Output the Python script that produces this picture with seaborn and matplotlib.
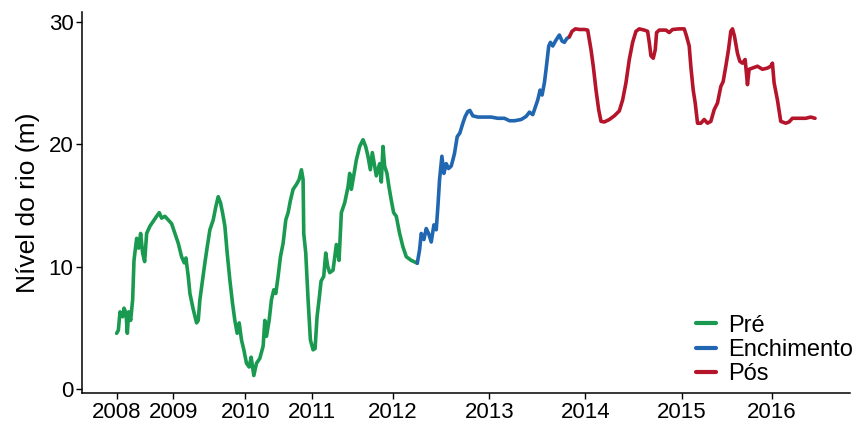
import matplotlib
matplotlib.use("Agg")
import matplotlib.pyplot as plt
import seaborn as sns
import pandas as pd

# River level series, indexed by observation number, split by reservoir phase
pre_idx = [0, 5, 10, 18, 22, 28, 32, 36, 42, 48, 52, 60, 66, 72, 78, 84, 90, 100, 110,
           120, 128, 135, 145, 155, 165, 175, 185, 195, 203, 208, 215, 220, 230, 240,
           245, 250, 258, 265, 272, 280, 290, 298, 305, 312, 318, 325, 332, 340, 348,
           355, 362, 368, 375, 382, 390, 398, 404, 412, 420, 430, 440, 445, 450, 458,
           465, 472, 478, 485, 492, 500, 508, 515, 522, 530, 540, 548, 555, 560, 562,
           568, 575, 582, 590, 596, 602, 608, 614, 622, 628, 634, 640, 650, 660, 668,
           675, 685, 695, 700, 705, 712, 720, 730, 740, 748, 755, 762, 768, 775, 780,
           790, 795, 800, 805, 812, 818, 825, 832, 840, 850, 860, 870, 885, 903]
pre_level = [4.55, 4.8, 6.3, 5.9, 6.6, 6.2, 4.55, 6.3, 5.6, 7.3, 10.5, 12.3, 11.5, 12.7,
             11.1, 10.4, 12.7, 13.3, 13.7, 14.1, 14.4, 13.95, 14.1, 13.8, 13.5, 12.7,
             11.9, 10.8, 10.3, 10.7, 9.2, 7.8, 6.5, 5.4, 5.6, 7.3, 8.9, 10.3, 11.6, 13.0,
             13.8, 14.9, 15.7, 15.2, 14.4, 13.3, 11.1, 8.9, 7.0, 5.6, 4.55, 5.4, 4.0, 3.2,
             2.1, 1.8, 2.6, 1.1, 2.1, 2.5, 3.5, 5.6, 4.3, 5.6, 7.3, 8.1, 7.8, 9.2, 10.8,
             11.9, 13.8, 14.4, 15.4, 16.3, 16.7, 17.1, 17.9, 17.1, 12.7, 11.1, 7.3, 4.0,
             3.2, 3.3, 5.9, 7.3, 8.8, 9.2, 11.1, 10.0, 9.5, 9.7, 11.8, 10.5, 14.4, 15.2,
             16.5, 17.6, 16.3, 17.4, 18.7, 19.8, 20.35, 19.8, 19.0, 17.9, 19.3, 18.2,
             17.4, 18.4, 16.9, 19.8, 18.2, 17.6, 16.5, 15.4, 14.4, 14.1, 12.7, 11.6,
             10.8, 10.5, 10.27]

fill_idx = [903, 910, 915, 923, 930, 937, 945, 953, 960, 965, 970, 977, 983, 990, 997,
            1005, 1010, 1015, 1023, 1031, 1040, 1047, 1055, 1061, 1070, 1085, 1105,
            1125, 1145, 1165, 1180, 1195, 1215, 1230, 1240, 1250, 1255, 1265, 1272,
            1278, 1285, 1290, 1298, 1303, 1310, 1318, 1325, 1330, 1338, 1345, 1352, 1360]
fill_level = [10.27, 11.36, 12.7, 12.2, 13.1, 12.7, 12.0, 13.4, 13.0, 14.9, 17.1, 19.0,
              17.6, 18.4, 18.0, 18.2, 18.7, 19.25, 20.6, 20.9, 21.7, 22.25, 22.66, 22.74,
              22.3, 22.2, 22.2, 22.2, 22.1, 22.1, 21.9, 21.9, 22.0, 22.25, 22.6, 22.4,
              22.8, 23.6, 24.4, 24.0, 25.0, 26.1, 28.0, 28.3, 28.0, 28.4, 28.7, 28.9,
              28.4, 28.3, 28.6, 28.75]

post_idx = [1360, 1368, 1378, 1390, 1405, 1415, 1425, 1432, 1440, 1448, 1455, 1465, 1480,
            1495, 1510, 1520, 1530, 1540, 1550, 1560, 1570, 1585, 1595, 1600, 1605, 1612,
            1618, 1622, 1630, 1650, 1660, 1670, 1690, 1705, 1712, 1720, 1725, 1732, 1738,
            1745, 1755, 1765, 1775, 1785, 1795, 1805, 1815, 1822, 1830, 1838, 1845, 1850,
            1856, 1865, 1872, 1880, 1888, 1895, 1900, 1910, 1925, 1940, 1955, 1965, 1970,
            1975, 1985, 1995, 2010, 2020, 2030, 2050, 2070, 2085, 2098]
post_level = [28.75, 29.2, 29.4, 29.35, 29.35, 29.3, 27.7, 26.3, 24.4, 22.8, 21.85, 21.8,
              22.0, 22.3, 22.7, 23.6, 25.0, 26.9, 28.3, 29.2, 29.4, 29.3, 29.2, 28.3,
              27.2, 27.0, 27.7, 29.1, 29.3, 29.3, 29.1, 29.35, 29.4, 29.4, 28.8, 28.0,
              26.3, 24.4, 23.35, 21.7, 21.7, 22.0, 21.7, 21.85, 22.8, 23.35, 24.7, 25.1,
              26.35, 27.7, 29.2, 29.4, 28.8, 27.4, 26.75, 26.6, 26.9, 24.85, 26.1, 26.2,
              26.35, 26.1, 26.2, 26.35, 26.6, 25.0, 23.6, 21.85, 21.7, 21.8, 22.1, 22.1,
              22.1, 22.2, 22.1]

phases = ["Pré", "Enchimento", "Pós"]
phase_colors = ["#1a9a50", "#2166b0", "#b5152b"]
year_labels = ["2008", "2009", "2010", "2011", "2012", "2013", "2014", "2015", "2016"]
year_start_idx = [0, 170, 387, 587, 830, 1120, 1408, 1697, 1968]

df = pd.concat([
    pd.DataFrame({"obs": pre_idx, "nivel": pre_level, "fase": phases[0]}),
    pd.DataFrame({"obs": fill_idx, "nivel": fill_level, "fase": phases[1]}),
    pd.DataFrame({"obs": post_idx, "nivel": post_level, "fase": phases[2]}),
], ignore_index=True)

sns.set_style("ticks")
plt.rcParams["font.family"] = ["Liberation Sans", "DejaVu Sans"]
plt.rcParams["text.color"] = "black"
plt.rcParams["axes.labelcolor"] = "black"

fig = plt.figure(figsize=(8.54, 4.23), dpi=100)
ax = fig.add_axes([0.0957, 0.0702, 0.8996, 0.9021])

sns.lineplot(data=df, x="obs", y="nivel", hue="fase", hue_order=phases,
             palette=phase_colors, estimator=None, sort=False, linewidth=2.6,
             ax=ax)
for ln in ax.get_lines():
    ln.set_solid_joinstyle("round")

ax.set_xlim(-105, 2203)
ax.set_ylim(-0.35, 30.8)
ax.set_xticks(year_start_idx)
ax.set_xticklabels(year_labels)
ax.set_yticks([0, 10, 20, 30])
ax.tick_params(axis="both", labelsize=16, colors="black", length=4, width=1,
               pad=2)
ax.set_xlabel("")
ax.set_ylabel("Nível do rio (m)", fontsize=19, labelpad=6, color="black")
sns.despine(ax=ax)
for side in ("left", "bottom"):
    ax.spines[side].set_linewidth(1.1)
    ax.spines[side].set_color("black")

leg = ax.legend(loc="lower left", bbox_to_anchor=(0.80, 0.021), frameon=False,
                fontsize=17, handlelength=0.85, handletextpad=0.5,
                labelspacing=0.1, borderpad=0, borderaxespad=0,
                labelcolor="black")
for h in leg.get_lines():
    h.set_linewidth(3)

fig.savefig("out.png", dpi=100)
